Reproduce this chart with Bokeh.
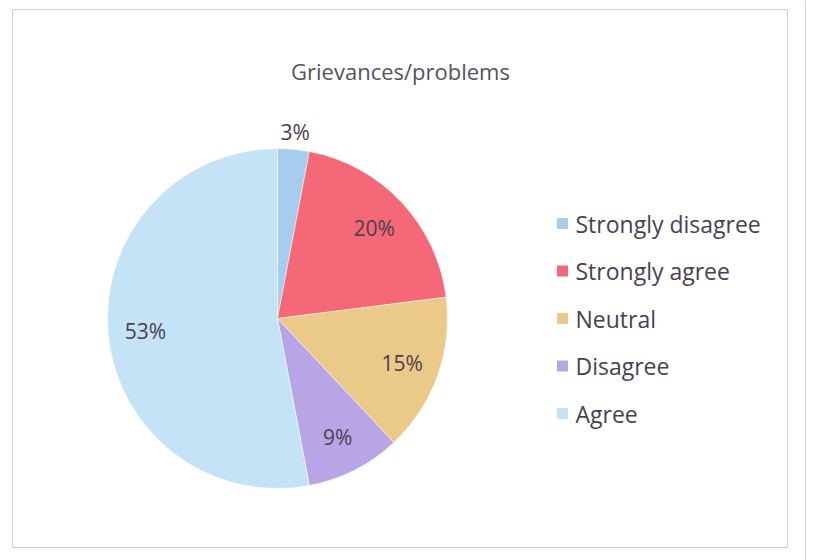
import math
from bokeh.plotting import figure
from bokeh.models import Range1d, ColumnDataSource
from bokeh.core.properties import value
from bokeh.embed import file_html
from bokeh.resources import INLINE

# ---- data ----
title_text = "Grievances/problems"
categories = ["Strongly disagree", "Strongly agree", "Neutral", "Disagree", "Agree"]
shares = [3, 20, 15, 9, 53]
colors = ["#a6ccee", "#f46877", "#ebc989", "#b8a5e5", "#c4e3f6"]

# ---- layout ----
W, H = 814, 560
FONT = "Open Sans"
TXT = "#4a4150"

p = figure(width=W, height=H, output_backend="svg", toolbar_location=None,
           x_range=Range1d(0, W), y_range=Range1d(0, H), min_border=0)
p.axis.visible = False
p.grid.visible = False
p.outline_line_color = None
p.background_fill_color = "white"
p.border_fill_color = "white"

# chart frame
p.quad(left=12, right=787, bottom=13, top=551, fill_color=None,
       line_color="#d8cad2", line_width=1)
p.segment(x0=805, y0=0, x1=805, y1=H, line_color="#ddd0d7", line_width=1)

# pie
cx, cy, R = 277, 242, 170
total = float(sum(shares))
starts, ends, lx, ly, labels = [], [], [], [], []
cum = 0.0
for s in shares:
    a0 = math.pi / 2 - 2 * math.pi * cum / total
    a1 = math.pi / 2 - 2 * math.pi * (cum + s) / total
    starts.append(a0)
    ends.append(a1)
    mid = (a0 + a1) / 2
    r = R * (1.1 if s / total < 0.05 else 0.78)
    lx.append(cx + r * math.cos(mid))
    ly.append(cy + r * math.sin(mid))
    labels.append(f"{s}%")
    cum += s

src = ColumnDataSource(dict(start=starts, end=ends, color=colors))
p.wedge(x=cx, y=cy, radius=R, start_angle="start", end_angle="end",
        direction="clock", fill_color="color", line_color="white",
        line_width=0.5, source=src)

p.text(x=lx, y=ly, text=labels, text_font=value(FONT), text_font_size="21px",
       text_color=TXT, text_align="center", text_baseline="middle")

# title
p.text(x=[400], y=[490], text=[title_text], text_font=value(FONT),
       text_font_size="22px", text_color="#5a5060", text_align="center",
       text_baseline="middle")

# legend
ly0, step = 337, 47.5
leg_y = [ly0 - i * step for i in range(len(categories))]
p.scatter(x=[562] * len(categories), y=leg_y, marker="square", size=11,
          fill_color=colors, line_color=None)
p.text(x=[575] * len(categories), y=leg_y, text=categories, text_font=value(FONT),
       text_font_size="23px", text_color=TXT, text_align="left",
       text_baseline="middle")

open("out.html", "w").write(file_html(p, INLINE))
